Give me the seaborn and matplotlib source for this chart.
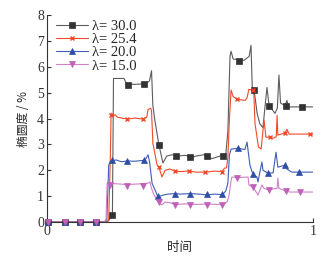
import numpy as np
import pandas as pd
import matplotlib
matplotlib.use("Agg")
import matplotlib.pyplot as plt
from matplotlib.lines import Line2D
import seaborn as sns

# line data (time, ovality %)
t30 = [0, 0.22, 0.232, 0.244, 0.246, 0.25, 0.29, 0.298, 0.33, 0.37, 0.385, 0.393, 0.398, 0.406, 0.421, 0.436,
       0.45, 0.47, 0.49, 0.52, 0.545, 0.56, 0.59, 0.62, 0.65, 0.672, 0.68, 0.688, 0.692, 0.70, 0.74, 0.76, 0.767,
       0.772, 0.78, 0.79, 0.80, 0.812, 0.82, 0.827, 0.835, 0.85, 0.857, 0.866, 0.872, 0.878, 0.895, 0.902, 0.908, 1.0]
y30 = [0, 0, 0.05, 0.3, 0.3, 5.55, 5.55, 5.35, 5.32, 5.35, 5.45, 5.85, 4.5, 3.9, 2.97, 2.28,
       2.55, 2.6, 2.55, 2.58, 2.5, 2.55, 2.6, 2.45, 2.55, 2.6, 3.5, 6.4, 6.6, 6.3, 6.25, 6.4, 6.83,
       5.1, 5.0, 4.2, 3.8, 3.65, 4.5, 5.2, 4.5, 4.3, 4.2, 4.4, 5.68, 4.6, 4.5, 4.7, 4.45, 4.45]

t25 = [0, 0.225, 0.232, 0.238, 0.241, 0.25, 0.256, 0.265, 0.29, 0.305, 0.33, 0.36, 0.375, 0.38, 0.39, 0.393,
       0.398, 0.414, 0.421, 0.432, 0.444, 0.462, 0.48, 0.50, 0.534, 0.56, 0.60, 0.63, 0.658, 0.667, 0.675,
       0.68, 0.686, 0.692, 0.70, 0.714, 0.745, 0.752, 0.759, 0.774, 0.778, 0.782, 0.795, 0.805, 0.816, 0.823,
       0.838, 0.85, 0.862, 0.865, 0.868, 0.88, 0.895, 0.902, 0.91, 1.0]
y25 = [0, 0, 0.1, 2.5, 4.2, 4.1, 4.15, 4.05, 4.0, 3.98, 4.02, 3.98, 4.05, 4.35, 4.4, 4.3,
       3.05, 2.2, 2.12, 1.74, 2.0, 2.05, 1.97, 1.95, 1.97, 1.93, 1.93, 1.97, 1.95, 2.08, 2.1,
       2.5, 4.0, 5.1, 4.85, 4.75, 4.7, 4.8, 5.13, 5.1, 4.9, 3.8, 2.9, 2.82, 3.94, 3.28,
       3.28, 3.24, 3.3, 4.13, 3.36, 3.4, 3.44, 3.59, 3.4, 3.4]

t20 = [0, 0.215, 0.225, 0.232, 0.24, 0.26, 0.28, 0.30, 0.33, 0.36, 0.372, 0.38, 0.386, 0.395, 0.41, 0.417,
       0.436, 0.455, 0.48, 0.50, 0.54, 0.57, 0.60, 0.63, 0.66, 0.672, 0.68, 0.686, 0.692, 0.72, 0.744, 0.752,
       0.763, 0.774, 0.789, 0.793, 0.808, 0.812, 0.831, 0.85, 0.861, 0.868, 0.895, 0.902, 0.92, 1.0]
y20 = [0, 0, 0.1, 2.2, 2.36, 2.4, 2.33, 2.36, 2.35, 2.38, 2.45, 2.6, 2.3, 1.5, 1.15, 0.97,
       1.04, 1.08, 1.1, 1.08, 1.1, 1.08, 1.05, 1.08, 1.06, 1.2, 1.5, 2.6, 2.82, 2.85, 2.8, 3.09,
       2.2, 1.85, 1.74, 1.55, 2.32, 2.0, 1.89, 1.9, 2.7, 2.12, 2.2, 2.05, 1.93, 1.93]

t15 = [0, 0.215, 0.222, 0.226, 0.26, 0.30, 0.34, 0.38, 0.387, 0.393, 0.40, 0.417, 0.432, 0.444, 0.462, 0.48,
       0.52, 0.56, 0.60, 0.64, 0.665, 0.677, 0.684, 0.692, 0.695, 0.72, 0.756, 0.759, 0.774, 0.789, 0.793,
       0.808, 0.816, 0.835, 0.85, 0.865, 0.868, 0.872, 0.898, 0.905, 0.91, 1.0]
y15 = [0, 0, 0.1, 1.5, 1.48, 1.45, 1.47, 1.5, 1.55, 1.3, 1.1, 0.78, 0.66, 0.77, 0.75, 0.68,
       0.7, 0.68, 0.7, 0.68, 0.7, 0.78, 1.0, 1.6, 1.74, 1.72, 1.74, 1.43, 1.35, 1.12, 1.04,
       1.43, 1.3, 1.24, 1.28, 1.3, 1.7, 1.3, 1.2, 1.3, 1.16, 1.16]

# marker positions
m30_t = [0.004, 0.068, 0.124, 0.184, 0.244, 0.305, 0.365, 0.421, 0.485, 0.538, 0.602, 0.662, 0.722, 0.778, 0.835, 0.898, 0.959]
m30_y = [0, 0, 0, 0, 0.27, 5.3, 5.35, 2.97, 2.55, 2.52, 2.55, 2.55, 6.22, 5.1, 4.5, 4.5, 4.44]
m25_t = [0.004, 0.068, 0.124, 0.184, 0.241, 0.301, 0.361, 0.421, 0.481, 0.534, 0.594, 0.658, 0.714, 0.774, 0.838, 0.895, 0.989]
m25_y = [0, 0, 0, 0, 4.15, 3.98, 3.98, 2.12, 1.97, 1.97, 1.93, 1.95, 4.75, 5.1, 3.28, 3.44, 3.4]
m20_t = [0.004, 0.068, 0.124, 0.184, 0.244, 0.301, 0.365, 0.417, 0.481, 0.538, 0.602, 0.658, 0.718, 0.774, 0.831, 0.895, 0.947]
m20_y = [0, 0, 0, 0, 2.38, 2.36, 2.38, 1.0, 1.1, 1.1, 1.08, 1.08, 2.88, 1.85, 1.9, 2.2, 1.95]
m15_t = [0.004, 0.068, 0.124, 0.184, 0.237, 0.301, 0.361, 0.421, 0.481, 0.538, 0.602, 0.658, 0.714, 0.774, 0.835, 0.898, 0.951]
m15_y = [0, 0, 0, 0, 1.43, 1.4, 1.4, 0.77, 0.66, 0.66, 0.66, 0.66, 1.7, 1.35, 1.24, 1.2, 1.16]

labels = ["λ= 30.0", "λ= 25.4", "λ= 20.0", "λ= 15.0"]

sns.set_style("ticks")
plt.rcParams['font.family'] = ['Liberation Serif', 'DejaVu Serif']

fig = plt.figure(figsize=(3.23, 2.6), dpi=100)
ax = fig.add_axes([0.1455, 0.146, 0.8235, 0.796])

series = [
    (t30, y30, m30_t, m30_y, '#333333', '#5c5c5c', 's', 5.0),
    (t25, y25, m25_t, m25_y, '#f04a28', '#f04a28', 'x', 3.5),
    (t20, y20, m20_t, m20_y, '#2e4ea6', '#3e5cb8', '^', 5.0),
    (t15, y15, m15_t, m15_y, '#c060b8', '#d080c8', 'v', 5.0),
]
handles = []
for (tt, yy, mt, my, mc, lc, mk, ms), lab in zip(series, labels):
    df = pd.DataFrame({'t': tt, 'y': yy})
    sns.lineplot(data=df, x='t', y='y', ax=ax, color=lc, lw=0.8, sort=False, estimator=None)
    ax.plot(mt, my, ls='none', marker=mk, ms=ms, color=mc, mec=mc, mew=1.0 if mk == 'x' else 0.5,
            clip_on=False, zorder=3)
    handles.append(Line2D([], [], color=lc, lw=0.8, marker=mk, ms=ms, mfc=mc, mec=mc,
                          mew=1.0 if mk == 'x' else 0.5))

ax.set_xlim(0, 1)
ax.set_ylim(0, 8)
ax.set_xticks([0, 1])
ax.set_xticklabels(['0', '1'])
ax.set_yticks(range(9))
ax.tick_params(direction='in', length=3, width=0.8, labelsize=10, colors='#333333', pad=2)
for s in ['left', 'bottom']:
    ax.spines[s].set_linewidth(0.8)
    ax.spines[s].set_color('#333333')
sns.despine(ax=ax)

ax.set_xlabel('时间', family=['Noto Sans CJK SC'], fontsize=9, labelpad=2)
ax.set_ylabel('椭圆度 / %', family=['Noto Sans CJK SC', 'DejaVu Sans'], fontsize=8.5, labelpad=5)

ax.legend(handles, labels, loc='upper left', bbox_to_anchor=(0.0, 1.02), frameon=False,
          fontsize=10.5, handlelength=2.2, handletextpad=0.3, labelspacing=0.0, borderaxespad=0.2)

fig.savefig('out.png', dpi=100)
